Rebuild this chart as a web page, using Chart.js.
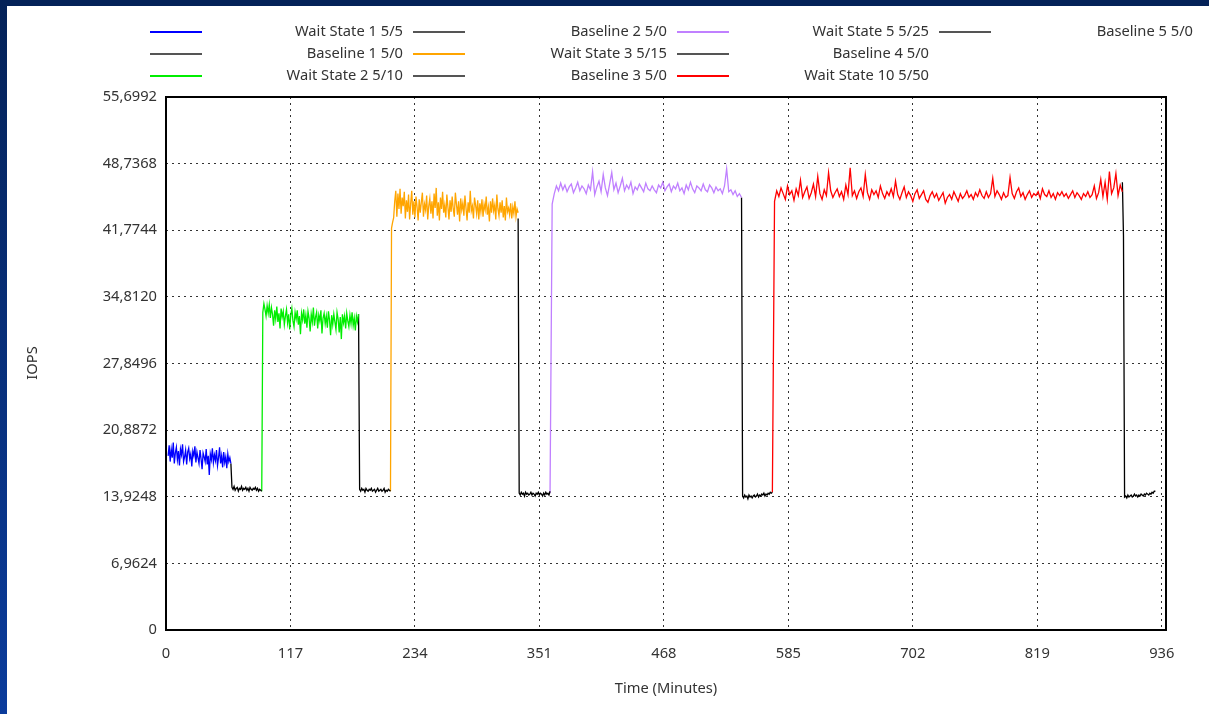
<!DOCTYPE html>
<html>
<head>
<meta charset="utf-8">
<script src="https://cdn.jsdelivr.net/npm/chart.js@4/dist/chart.umd.min.js"></script>
<style>
  html, body { margin:0; padding:0; background:#ffffff; }
  #wrap { position:relative; width:1209px; height:714px; overflow:hidden; background:#ffffff; font-family:"Noto Sans","Open Sans",sans-serif; color:#333; }
  #topband { position:absolute; left:0; top:0; width:1209px; height:6px; background:#042258; }
  #leftband { position:absolute; left:0; top:0; width:7px; height:714px; background:linear-gradient(#042258,#0b3c9c); }
  canvas { position:absolute; left:0; top:0; }
  .lt { position:absolute; font-size:14.7px; line-height:18px; white-space:nowrap; color:#333; }
  .ls { position:absolute; height:1.5px; }
  #ytitle { position:absolute; left:1px; width:60px; height:20px; line-height:20px; top:353px; text-align:center; font-size:14.7px; transform:rotate(-90deg); transform-origin:center; color:#333; }
  #xtitle { position:absolute; left:0; width:1332px; top:677px; text-align:center; font-size:14.7px; line-height:20px; color:#333; }
</style>
</head>
<body>
<div id="wrap">
  <canvas id="c" width="1209" height="714"></canvas>
  <div id="topband"></div>
  <div id="leftband"></div>
  <div id="legend"></div>
  <div id="ytitle">IOPS</div>
  <div id="xtitle">Time (Minutes)</div>
</div>
<script>
// ---------- DATA ----------
const seriesLabels = ["Wait State 1 5/5","Baseline 1 5/0","Wait State 2 5/10","Baseline 2 5/0","Wait State 3 5/15","Baseline 3 5/0","Wait State 5 5/25","Baseline 4 5/0","Wait State 10 5/50","Baseline 5 5/0"];
const seriesColors = ["#0000ff","#000000","#00ee00","#000000","#ffa500","#000000","#c080ff","#000000","#ff0000","#000000"];
const segStartMin = [2, 61, 90, 181, 211, 331, 361, 541, 570, 899];
const segEndMin   = [61, 90, 181, 211, 331, 361, 541, 570, 899, 930];

const ws1 = [18.2,19.3,17.6,18.9,18.0,19.6,17.4,18.5,19.1,17.8,18.7,17.2,18.9,18.3,19.4,17.6,18.1,18.8,17.3,18.6,19.0,17.9,18.4,17.1,18.7,18.2,19.2,17.5,18.6,18.0,17.4,18.8,17.9,16.8,18.5,18.1,17.6,18.9,17.3,18.2,16.2,18.4,17.8,19.0,17.5,18.3,17.7,18.8,17.2,18.0,19.1,17.4,18.2,17.0,18.6,17.5,18.1,16.9,18.4,17.6,18.0,17.4];
const bl1 = [17.4,14.9,14.7,15.0,14.6,14.8,14.9,14.5,14.8,14.7,15.0,14.6,14.8,14.7,14.9,14.6,14.8,14.5,14.9,14.7,14.6,14.8,14.7,14.9,14.6,14.8,14.5,14.7,14.6,14.5];
const ws2 = [14.5,33.2,34.1,33.5,32.8,33.9,33.1,34.0,32.6,33.7,33.0,31.8,33.4,32.5,33.8,32.2,33.1,31.5,33.6,32.7,33.3,31.9,32.8,33.5,32.1,33.0,31.4,32.9,33.6,32.3,31.7,33.2,32.5,33.4,31.9,32.8,30.9,33.1,32.4,33.5,32.0,32.9,31.6,33.3,32.6,31.2,33.0,32.2,33.7,31.8,32.7,33.2,31.5,32.9,32.3,33.4,31.0,32.6,33.1,32.0,32.8,31.6,33.3,32.4,30.8,32.9,31.9,33.0,32.2,31.4,33.2,32.5,31.1,32.7,30.4,33.0,32.1,32.8,31.5,33.1,32.3,31.7,32.9,32.0,33.2,31.8,32.6,31.3,32.8,32.2,33.0];
const bl2 = [33.0,14.7,14.5,14.8,14.6,14.7,14.4,14.8,14.6,14.5,14.7,14.6,14.8,14.5,14.6,14.7,14.4,14.6,14.8,14.5,14.6,14.7,14.5,14.6,14.8,14.4,14.6,14.5,14.7,14.6,14.5];
const ws3 = [14.5,42.0,42.6,43.1,44.8,45.9,43.2,45.6,44.0,46.1,43.5,45.2,44.3,45.8,43.0,44.9,43.7,45.5,42.9,44.6,45.9,43.4,44.8,43.1,45.3,44.2,42.8,45.0,43.6,44.7,45.7,43.2,44.5,43.9,45.4,42.9,44.3,45.1,43.5,44.8,43.0,45.6,44.1,46.2,43.3,44.7,42.8,45.2,44.0,45.8,43.6,44.4,43.1,45.5,44.2,42.9,44.9,43.7,45.3,44.0,43.2,45.7,44.5,43.4,44.8,42.7,45.1,43.9,44.6,43.3,45.4,44.1,42.8,44.7,43.6,45.9,43.8,44.3,43.0,45.2,44.4,43.5,44.9,42.9,44.6,43.7,45.0,43.2,44.5,43.9,45.3,43.4,44.2,42.7,44.8,43.6,45.1,43.8,44.4,42.9,45.5,44.0,43.3,44.7,43.6,44.9,43.1,44.3,42.8,45.2,43.7,44.1,43.4,44.6,43.0,44.2,43.5,44.8,43.2,44.0,43.6];
const bl3 = [43.0,14.3,14.1,14.4,14.2,14.3,14.0,14.4,14.2,14.3,14.1,14.2,14.4,14.1,14.3,14.2,14.0,14.3,14.2,14.4,14.1,14.3,14.2,14.0,14.3,14.1,14.4,14.2,14.3,14.1,14.5];
const ws5 = [14.3,44.5,45.6,46.4,45.9,46.7,46.0,46.5,45.8,46.3,46.6,45.7,46.2,46.8,45.9,46.4,46.1,45.6,46.5,46.0,47.9,45.5,46.3,46.9,45.8,47.6,46.2,45.4,46.6,47.8,46.0,46.7,45.7,46.4,47.2,45.9,46.5,46.1,46.8,45.6,46.3,46.0,46.6,46.2,45.8,46.7,46.1,45.9,46.4,46.0,45.7,46.5,46.2,46.8,45.9,46.3,46.6,45.8,46.4,46.1,46.7,45.9,46.2,45.6,46.5,46.0,46.8,46.1,45.7,46.4,46.2,45.9,46.6,46.0,45.8,46.5,46.2,45.7,46.3,45.9,46.1,45.6,46.4,48.2,45.8,46.0,45.5,45.9,45.3,45.6,45.2];
const bl4 = [45.2,14.0,13.8,14.1,13.9,14.0,13.7,14.1,13.9,14.0,13.8,14.0,14.1,13.9,14.0,14.2,13.9,14.1,14.0,14.2,14.1,14.3,14.0,14.2,14.1,14.3,14.2,14.4,14.3,14.4];
const ws10 = [14.4,44.8,45.9,45.3,46.2,45.6,45.0,46.4,45.5,45.9,44.9,46.1,45.4,47.0,45.2,45.8,46.3,45.1,45.7,46.6,45.3,47.4,45.6,45.0,46.0,45.4,47.8,45.9,45.2,45.7,46.1,45.3,45.8,45.0,46.5,45.5,48.3,45.4,45.9,45.1,45.8,46.2,45.3,47.6,45.7,45.0,46.0,45.5,45.9,45.2,46.4,45.6,45.1,45.8,45.4,46.1,45.3,46.9,45.5,45.0,45.7,46.3,45.2,45.8,45.4,44.8,45.6,46.0,45.1,45.5,45.9,45.0,44.7,45.4,45.8,45.2,45.6,44.9,45.3,45.7,44.6,45.2,45.5,45.0,45.8,45.3,44.8,45.6,45.1,45.4,45.9,45.2,45.5,45.0,45.7,45.3,46.0,45.4,45.1,45.8,45.2,45.6,47.2,45.3,45.9,45.5,45.0,45.7,45.2,45.4,47.3,45.6,45.1,45.8,46.2,45.3,45.7,45.0,45.5,45.9,45.2,45.6,45.4,45.8,45.1,46.1,45.5,45.3,45.9,45.2,45.6,45.0,45.7,45.4,45.8,45.3,45.6,45.1,45.5,45.9,45.2,45.7,45.4,45.0,45.6,45.3,45.8,45.2,45.5,46.4,45.1,45.7,47.1,45.3,46.8,45.0,47.9,45.6,46.2,47.7,45.4,46.5,45.8];
const bl5 = [46.8,41.2,13.9,14.0,13.8,14.1,13.9,14.0,14.1,13.9,14.0,14.2,14.0,14.1,13.9,14.1,14.0,14.2,14.1,14.0,14.2,14.1,14.3,14.2,14.1,14.3,14.2,14.4,14.3,14.5,14.5];
const seriesValues = [ws1, bl1, ws2, bl2, ws3, bl3, ws5, bl4, ws10, bl5];

const xTickValues = [0,117,234,351,468,585,702,819,936];
const xTickLabels = ["0","117","234","351","468","585","702","819","936"];
const yTickValues = [0,6.9624,13.9248,20.8872,27.8496,34.8120,41.7744,48.7368,55.6992];
const yTickLabels = ["0","6,9624","13,9248","20,8872","27,8496","34,8120","41,7744","48,7368","55,6992"];

// gnuplot-style legend (text, sample colour) laid out column by column
const legendCells = [
  {text:"", color:"#0000ff"}, {text:"", color:"#555555"}, {text:"", color:"#00ee00"},
  {text:"Wait State 1 5/5", color:"#555555"}, {text:"Baseline 1 5/0", color:"#ffa500"}, {text:"Wait State 2 5/10", color:"#555555"},
  {text:"Baseline 2 5/0", color:"#c080ff"}, {text:"Wait State 3 5/15", color:"#555555"}, {text:"Baseline 3 5/0", color:"#ff0000"},
  {text:"Wait State 5 5/25", color:"#555555"}, {text:"Baseline 4 5/0", color:null}, {text:"Wait State 10 5/50", color:null},
  {text:"Baseline 5 5/0", color:null}
];

// ---------- LEGEND (HTML) ----------
(function(){
  const lg = document.getElementById('legend');
  const colTextRight = [140, 403, 667, 929, 1193];
  const rowY = [31, 53, 75];
  legendCells.forEach((cell, i) => {
    const col = Math.floor(i / 3), row = i % 3;
    const right = colTextRight[col];
    if (cell.text) {
      const t = document.createElement('div');
      t.className = 'lt';
      t.textContent = cell.text;
      t.style.right = (1209 - right) + 'px';
      t.style.top = (rowY[row] - 10) + 'px';
      lg.appendChild(t);
    }
    if (cell.color) {
      const s = document.createElement('div');
      s.className = 'ls';
      s.style.left = (right + 10) + 'px';
      s.style.width = '52px';
      s.style.top = (rowY[row]) + 'px';
      s.style.background = cell.color;
      lg.appendChild(s);
    }
  });
})();

// ---------- CHART ----------
const datasets = seriesValues.map((vals, k) => {
  const t0 = segStartMin[k], t1 = segEndMin[k], n = vals.length;
  return {
    label: seriesLabels[k],
    data: vals.map((v, i) => ({ x: t0 + (t1 - t0) * i / (n - 1), y: v })),
    borderColor: seriesColors[k],
    backgroundColor: seriesColors[k],
    borderWidth: 1.3,
    pointRadius: 0,
    tension: 0,
    fill: false
  };
});

const framePlugin = {
  id: 'frame',
  afterDatasetsDraw(chart) {
    const a = chart.chartArea, ctx = chart.ctx;
    ctx.save();
    ctx.strokeStyle = '#000';
    ctx.lineWidth = 2;
    ctx.strokeRect(a.left, a.top, a.right - a.left, a.bottom - a.top);
    ctx.restore();
  }
};

new Chart(document.getElementById('c'), {
  type: 'line',
  data: { datasets },
  plugins: [framePlugin],
  options: {
    responsive: false,
    animation: false,
    devicePixelRatio: 1,
    layout: { padding: { left: 0, top: 97, right: 43, bottom: 0 } },
    plugins: { legend: { display: false }, tooltip: { enabled: false } },
    scales: {
      x: {
        type: 'linear', min: 0, max: 940,
        afterBuildTicks(s) { s.ticks = xTickValues.map(v => ({ value: v })); },
        afterFit(s) { s.height = 84; },
        ticks: {
          autoSkip: false, maxRotation: 0, padding: 15,
          color: '#333', font: { family: '"Noto Sans"', size: 14.7 },
          callback: (v, i) => xTickLabels[i]
        },
        grid: { color: '#333', lineWidth: 1, drawTicks: false },
        border: { display: false, dash: [2, 4] }
      },
      y: {
        type: 'linear', min: 0, max: 55.6992,
        afterBuildTicks(s) { s.ticks = yTickValues.map(v => ({ value: v })); },
        afterFit(s) { s.width = 166; },
        ticks: {
          autoSkip: false, padding: 9,
          color: '#333', font: { family: '"Noto Sans"', size: 14.7 },
          callback: (v, i) => yTickLabels[i]
        },
        grid: { color: '#333', lineWidth: 1, drawTicks: false },
        border: { display: false, dash: [2, 4] }
      }
    }
  }
});
</script>
</body>
</html>
